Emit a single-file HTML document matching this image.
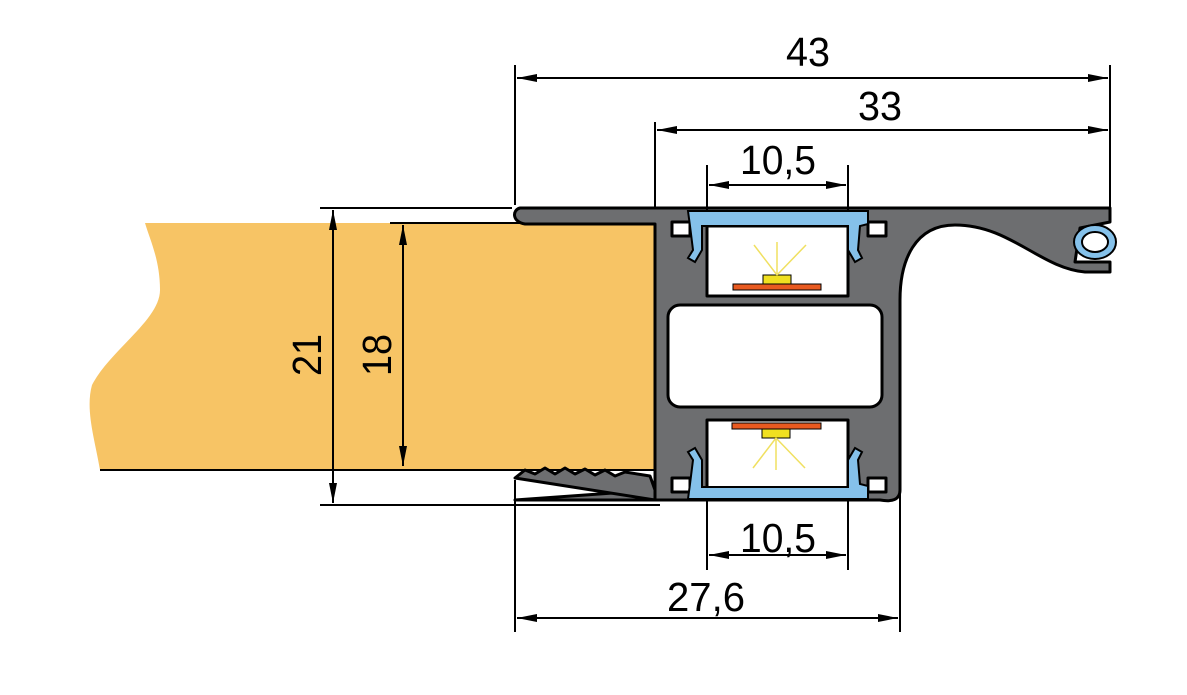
<!DOCTYPE html>
<html><head><meta charset="utf-8"><style>html,body{margin:0;padding:0;background:#fff}svg{display:block}</style></head><body>
<svg width="1187" height="695" viewBox="0 0 1187 695" xmlns="http://www.w3.org/2000/svg" font-family="Liberation Sans, sans-serif" font-size="41">
<defs><marker id="a" viewBox="0 0 20 10" refX="20" refY="5" markerWidth="20" markerHeight="10" orient="auto-start-reverse" markerUnits="userSpaceOnUse"><path d="M0,1 L20,5 L0,9 z" fill="#000"/></marker></defs>
<!-- wood -->
<path d="M145,223 L655,223 L655,470 L100,470 C95,440 85,410 92,385 C110,350 160,320 160,290 C160,260 150,240 145,223 Z" fill="#F7C465"/>
<line x1="100" y1="470" x2="655" y2="470" stroke="#000" stroke-width="2"/>
<line x1="390" y1="223" x2="520" y2="223" stroke="#000" stroke-width="2"/>
<!-- profile -->
<g stroke="#000" stroke-width="3" stroke-linejoin="round">
<path d="M520,208 L1110,208 L1110,222 L1080,228 L1075,262 L1110,262 L1110,272 L1085,272 C1040,268 1010,225 955,225 C915,225 900,260 900,300 L900,490 C900,500 892,502 880,500 L515,500 L655,490 L655,224 L525,224 C512,222 512,210 520,208 Z" fill="#6d6e70"/>
<path d="M515,478 L525,470 L535,474 L545,468 L555,474 L565,468 L575,474 L585,469 L595,475 L605,470 L615,476 L625,472 L650,476 L655,490 L655,500 Z" fill="#6d6e70"/>
<rect x="668" y="305" width="214" height="102" rx="12" fill="#fff"/>
<rect x="707" y="226" width="141" height="70" fill="#fff"/>
<rect x="707" y="420" width="141" height="70" fill="#fff"/>
<rect x="672" y="222" width="18" height="14" fill="#fff"/>
<rect x="868" y="222" width="18" height="14" fill="#fff"/>
<rect x="672" y="478" width="18" height="14" fill="#fff"/>
<rect x="868" y="478" width="18" height="14" fill="#fff"/>
</g>
<!-- covers -->
<g fill="#85c1ea" stroke="#000" stroke-width="2">
<path d="M688,211 L868,211 L868,224 L860,226 L858,250 L862,258 L855,262 L848,250 L848,226 L702,226 L702,250 L695,262 L688,258 L693,250 L690,226 Z"/>
<path d="M688,499 L868,499 L868,486 L860,484 L858,460 L862,452 L855,448 L848,460 L848,487 L702,487 L702,460 L695,448 L688,452 L693,460 L690,484 Z"/>
</g>
<ellipse cx="1095" cy="242" rx="21" ry="17" fill="#85c1ea" stroke="#000" stroke-width="2"/>
<ellipse cx="1095" cy="242" rx="13" ry="10" fill="#fff" stroke="#000" stroke-width="2"/>
<!-- LEDs -->
<g stroke="#000" stroke-width="1">
<rect x="733" y="284" width="88" height="6" fill="#e85a20"/>
<rect x="763" y="275" width="28" height="9" fill="#f0e020"/>
<rect x="732" y="423" width="89" height="6" fill="#e85a20"/>
<rect x="762" y="429" width="28" height="9" fill="#f0e020"/>
</g>
<g stroke="#f0e060" stroke-width="1.5">
<line x1="777" y1="275" x2="777" y2="242"/><line x1="777" y1="275" x2="754" y2="245"/><line x1="777" y1="275" x2="806" y2="245"/>
<line x1="776" y1="438" x2="776" y2="470"/><line x1="776" y1="438" x2="753" y2="468"/><line x1="776" y1="438" x2="805" y2="468"/>
</g>
<!-- dimension lines -->
<g stroke="#000" stroke-width="2" fill="none">
<line x1="515" y1="65" x2="515" y2="205"/><line x1="1110" y1="65" x2="1110" y2="210"/>
<line x1="655" y1="122" x2="655" y2="208"/>
<line x1="707" y1="165" x2="707" y2="210"/><line x1="848" y1="165" x2="848" y2="210"/>
<line x1="707" y1="500" x2="707" y2="570"/><line x1="848" y1="500" x2="848" y2="570"/>
<line x1="515" y1="480" x2="515" y2="632"/><line x1="900" y1="480" x2="900" y2="632"/>
<line x1="320" y1="208" x2="512" y2="208"/><line x1="320" y1="505" x2="660" y2="505"/>
<line x1="517" y1="78" x2="1108" y2="78" marker-start="url(#a)" marker-end="url(#a)"/>
<line x1="657" y1="130" x2="1108" y2="130" marker-start="url(#a)" marker-end="url(#a)"/>
<line x1="709" y1="185" x2="846" y2="185" marker-start="url(#a)" marker-end="url(#a)"/>
<line x1="709" y1="555" x2="846" y2="555" marker-start="url(#a)" marker-end="url(#a)"/>
<line x1="517" y1="618" x2="898" y2="618" marker-start="url(#a)" marker-end="url(#a)"/>
<line x1="333" y1="210" x2="333" y2="503" marker-start="url(#a)" marker-end="url(#a)"/>
<line x1="403" y1="225" x2="403" y2="466" marker-start="url(#a)" marker-end="url(#a)"/>
</g>
<g fill="#000" text-anchor="middle">
<text x="808" y="66" textLength="44" lengthAdjust="spacingAndGlyphs">43</text>
<text x="880" y="120" textLength="44" lengthAdjust="spacingAndGlyphs">33</text>
<text x="778" y="174" textLength="76" lengthAdjust="spacingAndGlyphs">10,5</text>
<text x="778" y="552" textLength="76" lengthAdjust="spacingAndGlyphs">10,5</text>
<text x="706" y="611" textLength="78" lengthAdjust="spacingAndGlyphs">27,6</text>
<text transform="translate(321,355) rotate(-90)" textLength="42" lengthAdjust="spacingAndGlyphs">21</text>
<text transform="translate(391,355) rotate(-90)" textLength="42" lengthAdjust="spacingAndGlyphs">18</text>
</g>
</svg>
</body></html>
